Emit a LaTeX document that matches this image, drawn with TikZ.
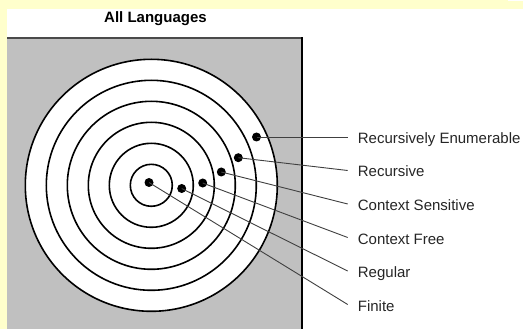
\documentclass[tikz,border=0pt]{standalone}
\usepackage{fontspec}
\setmainfont{Liberation Sans}
\definecolor{bgyellow}{HTML}{FFFFCC}
\definecolor{panelgray}{HTML}{C0C0C0}
\definecolor{edgegray}{HTML}{4A4A4A}
\definecolor{leadgray}{HTML}{404040}
\definecolor{labeltext}{HTML}{262626}
\begin{document}
\begin{tikzpicture}[x=1pt,y=-1pt,
  ring/.style={circle,draw=black,line width=1.6pt,inner sep=0pt,minimum size=#1},
  dotnode/.style={circle,fill=black,inner sep=0pt,minimum size=9pt},
  lbl/.style={anchor=base west,inner sep=0pt,font=\fontsize{15}{18}\selectfont,text=labeltext},
  lead/.style={draw=leadgray,line width=0.9pt}]
\useasboundingbox (0,0) rectangle (523,329);
\fill[white] (0,0) rectangle (523,329);
\fill[bgyellow] (0,0) rectangle (508,9);
\fill[bgyellow] (508,1) rectangle (523,9);
\fill[bgyellow] (0,0) rectangle (7,329);
% panel
\fill[panelgray] (7,38.3) rectangle (301.7,330);
\draw[edgegray,line width=2pt] (7,38.3) -- (301.7,38.3);
\draw[black,line width=2pt] (301.7,37.3) -- (301.7,330);
% title
\node[font=\fontsize{15}{18}\selectfont\bfseries,inner sep=0pt] (title) at (155.5,18.5) {All Languages};
% rings
\node[ring=252pt,fill=white] (c6) at (151.3,185.3) {};
\node[ring=210pt] (c5) at (151.3,185.3) {};
\node[ring=168pt] (c4) at (151.3,185.3) {};
\node[ring=126pt] (c3) at (151.3,185.3) {};
\node[ring=84pt] (c2) at (151.3,185.3) {};
\node[ring=42pt] (c1) at (151.3,185.3) {};
% line ends
\coordinate (eRE) at (347.7,137);
\coordinate (eR) at (347.7,170.5);
\coordinate (eCS) at (347.7,204);
\coordinate (eCF) at (347.7,237.5);
\coordinate (eReg) at (347.7,271);
\coordinate (eFin) at (347.7,304.5);
% dots
\node[dotnode] (dRE) at (256.5,137) {};
\node[dotnode] (dR) at (238.3,157.7) {};
\node[dotnode] (dCS) at (221.3,172) {};
\node[dotnode] (dCF) at (202.7,183) {};
\node[dotnode] (dReg) at (181.7,188.5) {};
\node[dotnode] (dFin) at (149,182.5) {};
% labels
\node[lbl] (lRE) at (357.7,143.5) {Recursively Enumerable};
\node[lbl] (lR) at (357.7,177) {Recursive};
\node[lbl] (lCS) at (357.7,210.5) {Context Sensitive};
\node[lbl] (lCF) at (357.7,244) {Context Free};
\node[lbl] (lReg) at (357.7,277.5) {Regular};
\node[lbl] (lFin) at (357.7,311) {Finite};
% leaders
\draw[lead] (dRE.center) -- (eRE);
\draw[lead] (dR.center) -- (eR);
\draw[lead] (dCS.center) -- (eCS);
\draw[lead] (dCF.center) -- (eCF);
\draw[lead] (dReg.center) -- (eReg);
\draw[lead] (dFin.center) -- (eFin);
\end{tikzpicture}
\end{document}
